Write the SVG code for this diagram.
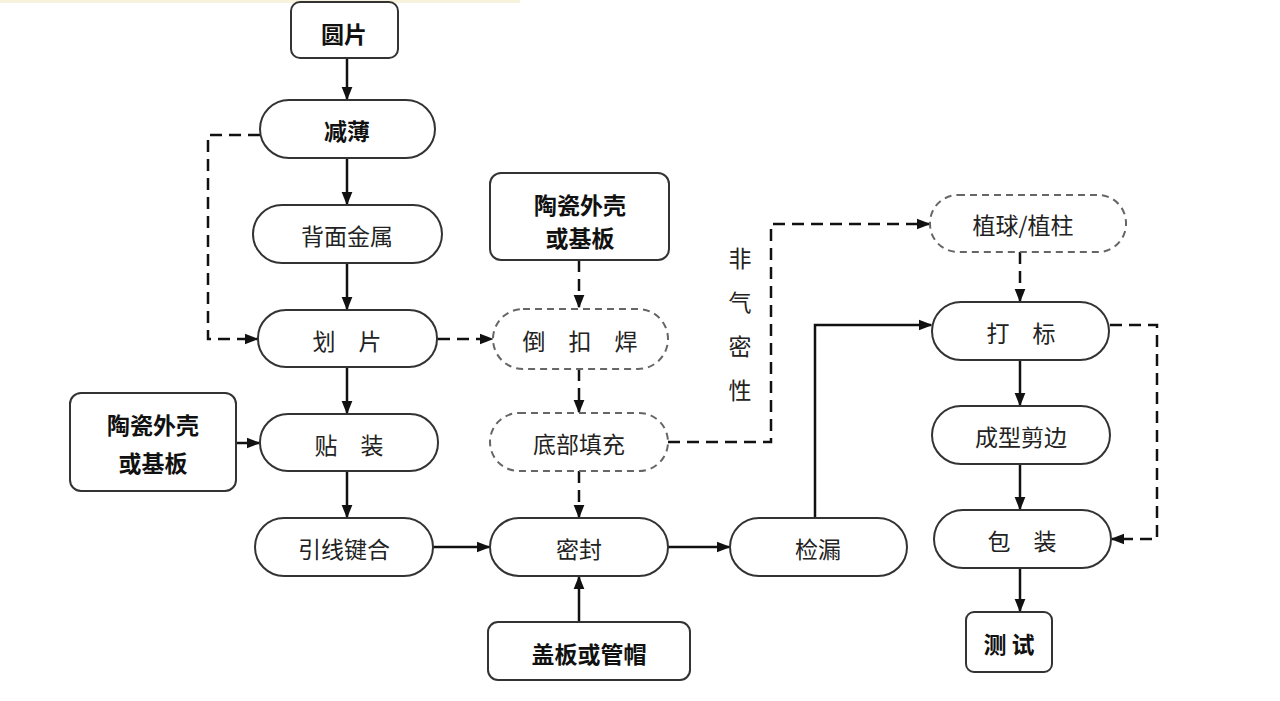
<svg xmlns="http://www.w3.org/2000/svg" width="1280" height="701" viewBox="0 0 1280 701">
<defs>
<marker id="ah" viewBox="0 0 10 10" refX="9" refY="5" markerWidth="5.5" markerHeight="5.5" orient="auto" markerUnits="strokeWidth">
<path d="M0,1 L10,5 L0,9 Z" fill="#111"/>
</marker>
<style>
.n{fill:#fff;stroke:#333;stroke-width:2}
.d{fill:#fff;stroke:#666;stroke-width:2;stroke-dasharray:7,5}
.t{font-family:"Noto Sans CJK SC","Noto Sans",sans-serif;font-size:23px;fill:#222;text-anchor:middle;dominant-baseline:central}
.b{font-weight:bold;fill:#111}
.c{fill:none;stroke:#111;stroke-width:2.5;marker-end:url(#ah)}
.cd{fill:none;stroke:#111;stroke-width:2.5;stroke-dasharray:12,7;marker-end:url(#ah)}
</style>
</defs>
<rect width="1280" height="701" fill="#fff"/>
<rect x="0" y="0" width="520" height="3" fill="#f6f2dc"/>
<g id="connectors">
<line class="c" x1="347" y1="58" x2="347" y2="99"/>
<line class="c" x1="347" y1="158" x2="347" y2="204"/>
<line class="c" x1="347" y1="263" x2="347" y2="309"/>
<line class="c" x1="347" y1="367" x2="347" y2="413"/>
<line class="c" x1="347" y1="471" x2="347" y2="517"/>
<polyline class="cd" points="260,135 208,135 208,339 257,339"/>
<line class="cd" x1="438" y1="339" x2="492" y2="339"/>
<line class="cd" x1="579" y1="260" x2="579" y2="307"/>
<line class="cd" x1="579" y1="369" x2="579" y2="412"/>
<line class="cd" x1="579" y1="471" x2="579" y2="517"/>
<line class="c" x1="236" y1="443" x2="259" y2="443"/>
<line class="c" x1="433" y1="547" x2="489" y2="547"/>
<line class="c" x1="579" y1="622" x2="579" y2="577"/>
<line class="c" x1="668" y1="547" x2="729" y2="547"/>
<polyline class="c" points="815,518 815,325 931,325"/>
<polyline class="cd" points="668,442 771,442 771,224 929,224"/>
<line class="cd" x1="1020" y1="252" x2="1020" y2="301"/>
<line class="c" x1="1020" y1="360" x2="1020" y2="405"/>
<line class="c" x1="1020" y1="464" x2="1020" y2="509"/>
<line class="c" x1="1020" y1="568" x2="1020" y2="611"/>
<polyline class="cd" points="1110,325 1157,325 1157,539 1112,539"/>
<g class="t"><text x="740" y="257">非</text><text x="740" y="301">气</text><text x="740" y="345">密</text><text x="740" y="389">性</text></g>
</g>
<g id="n-yuanpian"><rect class="n" x="291" y="2" width="107" height="56" rx="9"/><text class="t b" x="344" y="33">圆片</text></g>
<g id="n-jianbo"><rect class="n" x="260" y="100" width="175" height="58" rx="29"/><text class="t b" x="347" y="130">减薄</text></g>
<g id="n-beimian"><rect class="n" x="253" y="205" width="189" height="58" rx="29"/><text class="t" x="347" y="235">背面金属</text></g>
<g id="n-huapian"><rect class="n" x="258" y="310" width="179" height="57" rx="28"/><text class="t" x="347" y="340">划　片</text></g>
<g id="n-tiezhuang"><rect class="n" x="260" y="414" width="178" height="57" rx="28"/><text class="t" x="349" y="444">贴　装</text></g>
<g id="n-yinxian"><rect class="n" x="255" y="518" width="178" height="58" rx="29"/><text class="t" x="344" y="548">引线键合</text></g>
<g id="n-taoci-left"><rect class="n" x="70" y="393" width="166" height="98" rx="11"/><text class="t b" x="153" y="424">陶瓷外壳</text><text class="t b" x="153" y="462">或基板</text></g>
<g id="n-taoci-top"><rect class="n" x="490" y="173" width="179" height="87" rx="11"/><text class="t b" x="580" y="204">陶瓷外壳</text><text class="t b" x="580" y="237">或基板</text></g>
<g id="n-daokouhan"><rect class="d" x="493" y="309" width="175" height="60" rx="30"/><text class="t" x="580" y="340">倒　扣　焊</text></g>
<g id="n-dibu"><rect class="d" x="490" y="413" width="178" height="58" rx="29"/><text class="t" x="579" y="443">底部填充</text></g>
<g id="n-mifeng"><rect class="n" x="490" y="518" width="178" height="58" rx="29"/><text class="t" x="579" y="548">密封</text></g>
<g id="n-gaiban"><rect class="n" x="488" y="622" width="202" height="58" rx="10"/><text class="t b" x="589" y="653">盖板或管帽</text></g>
<g id="n-jianlou"><rect class="n" x="730" y="518" width="177" height="58" rx="29"/><text class="t" x="818" y="548">检漏</text></g>
<g id="n-zhiqiu"><rect class="d" x="930" y="195" width="196" height="57" rx="28"/><text class="t" x="1023" y="224">植球/植柱</text></g>
<g id="n-dabiao"><rect class="n" x="932" y="302" width="177" height="58" rx="29"/><text class="t" x="1021" y="332">打　标</text></g>
<g id="n-chengxing"><rect class="n" x="932" y="406" width="178" height="58" rx="29"/><text class="t" x="1021" y="436">成型剪边</text></g>
<g id="n-baozhuang"><rect class="n" x="934" y="510" width="177" height="58" rx="29"/><text class="t" x="1022" y="540">包　装</text></g>
<g id="n-ceshi"><rect class="n" x="966" y="612" width="86" height="60" rx="8"/><text class="t b" x="1009" y="643">测 试</text></g>
</svg>
